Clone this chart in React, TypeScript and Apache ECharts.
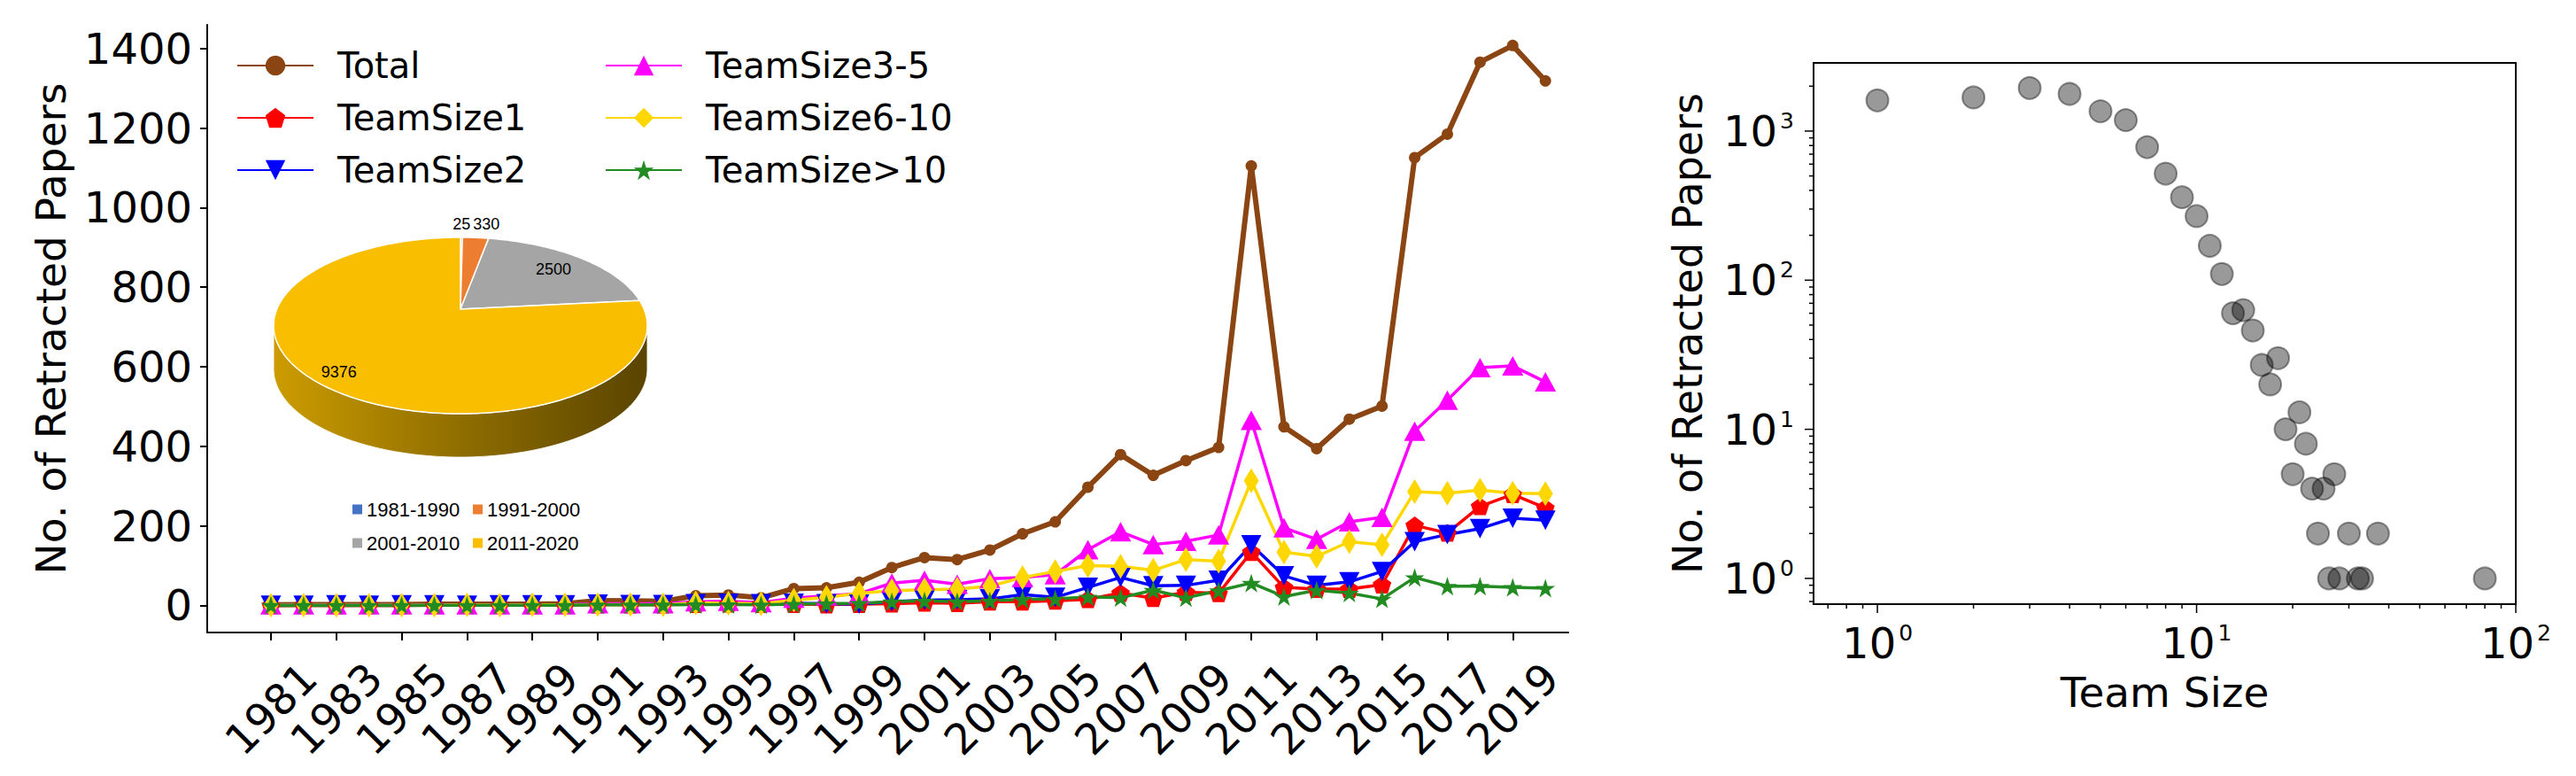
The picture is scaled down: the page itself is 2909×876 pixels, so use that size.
import React, { useEffect, useRef } from 'react';
import * as echarts from 'echarts';

// ---------------- data: left chart ----------------
const years = [
  1981, 1982, 1983, 1984, 1985, 1986, 1987, 1988, 1989, 1990,
  1991, 1992, 1993, 1994, 1995, 1996, 1997, 1998, 1999, 2000,
  2001, 2002, 2003, 2004, 2005, 2006, 2007, 2008, 2009, 2010,
  2011, 2012, 2013, 2014, 2015, 2016, 2017, 2018, 2019, 2020,
];
const yearTickLabels = [
  1981, 1983, 1985, 1987, 1989, 1991, 1993, 1995, 1997, 1999,
  2001, 2003, 2005, 2007, 2009, 2011, 2013, 2015, 2017, 2019,
];
const countTicks = [0, 200, 400, 600, 800, 1000, 1200, 1400];

const total = [
  1, 2, 2, 2, 2, 3, 3, 3, 3, 4,
  12, 11, 10, 24, 26, 19, 42, 44, 58, 95,
  120, 115, 139, 180, 210, 297, 379, 327, 364, 397,
  1105, 449, 394, 468, 501, 1126, 1185, 1366, 1408, 1319,
];
const teamSize1 = [
  0, 1, 0, 1, 0, 1, 1, 1, 0, 1,
  2, 2, 2, 3, 4, 3, 3, 2, 3, 4,
  6, 5, 9, 9, 11, 15, 31, 18, 33, 30,
  134, 45, 41, 41, 52, 201, 182, 249, 279, 245,
];
const teamSize2 = [
  0, 0, 1, 0, 1, 1, 0, 1, 1, 1,
  3, 2, 2, 4, 5, 4, 5, 4, 3, 9,
  13, 14, 16, 27, 20, 45, 70, 49, 50, 63,
  152, 74, 50, 59, 85, 160, 178, 193, 219, 214,
];
const teamSize3to5 = [
  1, 1, 1, 1, 1, 1, 1, 1, 1, 1,
  4, 4, 4, 9, 10, 7, 18, 24, 29, 56,
  63, 53, 67, 70, 77, 140, 185, 153, 161, 177,
  465, 195, 166, 210, 221, 438, 516, 598, 602, 562,
];
const teamSize6to10 = [
  0, 0, 0, 0, 0, 0, 1, 0, 1, 1,
  2, 2, 1, 6, 5, 4, 13, 20, 30, 37,
  39, 41, 48, 70, 85, 100, 98, 88, 115, 111,
  313, 134, 123, 160, 152, 286, 282, 290, 282, 281,
];
const teamSizeOver10 = [
  0, 0, 0, 0, 0, 0, 0, 0, 0, 0,
  1, 1, 1, 2, 2, 1, 3, 4, 5, 9,
  11, 9, 11, 15, 16, 21, 19, 38, 19, 37,
  56, 22, 38, 31, 16, 70, 48, 48, 45, 43,
];

// ---------------- data: inset 3D pie ----------------
const decadeLabels = ['1981-1990', '1991-2000', '2001-2010', '2011-2020'];
const decadeCounts = [25, 330, 2500, 9376];
const decadeColors = ['#4472C4', '#ED7D31', '#A5A5A5', '#F9BE00'];

// ---------------- data: right chart ----------------
const teamSizes = [1, 2, 3, 4, 5, 6, 7, 8, 9, 10, 11, 12, 13, 14, 15, 16, 17, 18, 19, 20, 21, 22, 23, 24, 25, 26, 27, 28, 30, 32, 33, 37, 80];
const paperCounts = [1607, 1682, 1944, 1775, 1358, 1184, 780, 518, 360, 269, 170, 110, 60, 63, 46, 27, 20, 30, 10, 5, 13, 8, 4, 2, 4, 1, 5, 1, 2, 1, 1, 2, 1];
const logMajorX = [1, 10, 100];
const logMinorX = [0.7, 0.8, 0.9, 2, 3, 4, 5, 6, 7, 8, 9, 20, 30, 40, 50, 60, 70, 80, 90];
const logMajorY = [1, 10, 100, 1000];
const logMinorY = [0.7, 0.8, 0.9, 2, 3, 4, 5, 6, 7, 8, 9, 20, 30, 40, 50, 60, 70, 80, 90, 200, 300, 400, 500, 600, 700, 800, 900, 2000];

// ---------------- styles ----------------
const FONT = 'DejaVu Sans';
const PENTAGON = 'path://M1,0L1.9511,0.691L1.5878,1.809L0.4122,1.809L0.0489,0.691Z';
const TRI_DOWN = 'path://M0,0L2,0L1,2Z';
const STAR = 'path://M1,0L1.2245,0.691L1.9511,0.691L1.3633,1.118L1.5878,1.809L1,1.382L0.4122,1.809L0.6367,1.118L0.0489,0.691L0.7755,0.691Z';

const lineDefs = [
  { name: 'Total', data: total, color: '#8B4513', symbol: 'circle', size: 13, width: 6 },
  { name: 'TeamSize1', data: teamSize1, color: '#FF0000', symbol: PENTAGON, size: [21, 20], width: 3.5 },
  { name: 'TeamSize2', data: teamSize2, color: '#0000FF', symbol: TRI_DOWN, size: [23, 22], width: 3.5 },
  { name: 'TeamSize3-5', data: teamSize3to5, color: '#FF00FF', symbol: 'triangle', size: [24, 22], width: 3.5 },
  { name: 'TeamSize6-10', data: teamSize6to10, color: '#FFD700', symbol: 'diamond', size: [17, 28], width: 3.5 },
  { name: 'TeamSize>10', data: teamSizeOver10, color: '#228B22', symbol: STAR, size: [22, 21], width: 3.5 },
];

// pie geometry (perspective-projected ellipse)
const PIE = { cx: 520, cy: 349, ax: 207.3, ay: 96.1, persp: 0.186, depth: 49 };
const pieLabelRadius = [1.23, 1.23, 0.755, 0.87];
const pieLabelShiftX = [0, 9, 0, 0];

function proj(X: number, Z: number): number[] {
  const s = 1 / (1 - PIE.persp * Z);
  return [PIE.cx + PIE.ax * X * s, PIE.cy + PIE.ay * Z * s];
}
function rim(deg: number, r = 1): number[] {
  const a = (deg * Math.PI) / 180;
  return proj(r * Math.sin(a), -r * Math.cos(a));
}
function shade(hex: string, f: number): string {
  const n = parseInt(hex.slice(1), 16);
  const r = Math.round(((n >> 16) & 255) * f);
  const g = Math.round(((n >> 8) & 255) * f);
  const b = Math.round((n & 255) * f);
  return `rgb(${r},${g},${b})`;
}
const pieSum = decadeCounts.reduce((a, b) => a + b, 0);
const sideStart = (Math.acos(-PIE.persp) * 180) / Math.PI;
const sideEnd = 360 - sideStart;

function sliceRender(i: number) {
  return (params: any, api: any) => {
    const v = api.value(0);
    let before = 0;
    for (let k = 0; k < i; k++) before += decadeCounts[k];
    const a0 = (before / pieSum) * 360;
    const a1 = ((before + v) / pieSum) * 360;
    const color = decadeColors[i];
    const children: any[] = [];
    const s0 = Math.max(a0, sideStart);
    const s1 = Math.min(a1, sideEnd);
    if (s1 > s0) {
      const top: number[][] = [];
      const n = Math.max(2, Math.ceil(s1 - s0));
      for (let s = 0; s <= n; s++) top.push(rim(s0 + ((s1 - s0) * s) / n));
      const bottom = top.map((p) => [p[0], p[1] + PIE.depth]).reverse();
      children.push({
        type: 'polygon',
        shape: { points: top.concat(bottom) },
        style: {
          fill: new echarts.graphic.LinearGradient(0, 0, 1, 0, [
            { offset: 0, color: shade(color, 0.82) },
            { offset: 0.55, color: shade(color, 0.55) },
            { offset: 1, color: shade(color, 0.36) },
          ]),
          stroke: 'rgba(255,255,255,0.85)',
          lineWidth: 1,
        },
      });
    }
    const pts: number[][] = [proj(0, 0)];
    const steps = Math.max(2, Math.ceil(a1 - a0));
    for (let s = 0; s <= steps; s++) pts.push(rim(a0 + ((a1 - a0) * s) / steps));
    children.push({
      type: 'polygon',
      shape: { points: pts },
      style: { fill: color, stroke: '#ffffff', lineWidth: 1.5 },
    });
    const lp = rim((a0 + a1) / 2, pieLabelRadius[i]);
    children.push({
      type: 'text',
      x: lp[0] + pieLabelShiftX[i],
      y: lp[1],
      style: {
        text: String(v),
        fontSize: 18,
        fontFamily: 'Liberation Sans',
        fill: '#000',
        align: 'center',
        verticalAlign: 'middle',
      },
    });
    return { type: 'group', children };
  };
}

function tickSeries(vals: number[], axis: 'x' | 'y', len: number) {
  return {
    type: 'custom',
    xAxisIndex: 1,
    yAxisIndex: 1,
    silent: true,
    clip: false,
    z: 10,
    data: vals.map((v) => (axis === 'x' ? [v, 1] : [1, v])),
    renderItem: (params: any, api: any) => {
      const cs = params.coordSys;
      const p = api.coord([api.value(0), api.value(1)]);
      if (axis === 'x') {
        const yb = cs.y + cs.height;
        return { type: 'line', shape: { x1: p[0], y1: yb, x2: p[0], y2: yb + len }, style: { stroke: '#000', lineWidth: 1.5 } };
      }
      return { type: 'line', shape: { x1: cs.x - len, y1: p[1], x2: cs.x, y2: p[1] }, style: { stroke: '#000', lineWidth: 1.5 } };
    },
  };
}

const logLabel = (v: number) => {
  const e = Math.log10(v);
  const r = Math.round(e);
  if (Math.abs(e - r) > 1e-6) return '';
  return `{b|10}{s|${r}}`;
};
const logRich = {
  b: { fontSize: 48, lineHeight: 48, fontFamily: FONT, color: '#000', verticalAlign: 'bottom' },
  s: { fontSize: 25, lineHeight: 25, fontFamily: FONT, color: '#000', verticalAlign: 'top', padding: [0, 0, 0, 3] },
};

const legendBase = {
  orient: 'vertical',
  top: 54,
  padding: 0,
  itemWidth: 86,
  itemHeight: 28,
  itemGap: 19,
  textStyle: { fontSize: 40, lineHeight: 40, fontFamily: FONT, color: '#000', padding: [0, 0, 0, 22] },
};
const pieLegendBase = {
  orient: 'vertical',
  top: 564,
  padding: 0,
  icon: 'rect',
  itemWidth: 11,
  itemHeight: 11,
  itemGap: 16,
  textStyle: { fontSize: 22, lineHeight: 22, fontFamily: 'Liberation Sans', color: '#000' },
};

const option: any = {
  animation: false,
  backgroundColor: '#ffffff',
  textStyle: { fontFamily: FONT },
  grid: [
    { left: 234, top: 28, width: 1537, height: 686, show: false },
    { left: 2048, top: 71, width: 793, height: 611, show: true, borderColor: '#000', borderWidth: 2, backgroundColor: 'transparent' },
  ],
  legend: [
    { ...legendBase, left: 267, data: ['Total', 'TeamSize1', 'TeamSize2'] },
    { ...legendBase, left: 683, data: ['TeamSize3-5', 'TeamSize6-10', 'TeamSize>10'] },
    { ...pieLegendBase, left: 398, data: [decadeLabels[0], decadeLabels[2]] },
    { ...pieLegendBase, left: 534, data: [decadeLabels[1], decadeLabels[3]] },
  ],
  xAxis: [
    {
      type: 'value',
      gridIndex: 0,
      min: 1979.05,
      max: 2020.7,
      splitLine: { show: false },
      axisLine: { show: true, onZero: false, lineStyle: { color: '#000', width: 2 } },
      axisTick: { show: true, length: 9, customValues: yearTickLabels, lineStyle: { color: '#000', width: 2 } },
      axisLabel: {
        customValues: yearTickLabels,
        rotate: 45,
        align: 'center',
        verticalAlign: 'middle',
        margin: 86,
        fontSize: 48,
        fontFamily: FONT,
        color: '#000',
        formatter: (v: number) => String(v),
      },
    },
    {
      type: 'log',
      gridIndex: 1,
      logBase: 10,
      min: 0.631,
      max: 100,
      splitLine: { show: false },
      axisLine: { show: false },
      axisTick: { show: false },
      axisLabel: { formatter: logLabel, rich: logRich, margin: 20, color: '#000' },
      name: 'Team Size',
      nameLocation: 'middle',
      nameGap: 76,
      nameTextStyle: { fontSize: 47, lineHeight: 47, fontFamily: FONT, color: '#000' },
    },
  ],
  yAxis: [
    {
      type: 'value',
      gridIndex: 0,
      min: -68.4,
      max: 1460,
      splitLine: { show: false },
      axisLine: { show: true, onZero: false, lineStyle: { color: '#000', width: 2 } },
      axisTick: { show: true, length: 8, customValues: countTicks, lineStyle: { color: '#000', width: 2 } },
      axisLabel: {
        customValues: countTicks,
        margin: 17,
        fontSize: 48,
        fontFamily: FONT,
        color: '#000',
        formatter: (v: number) => String(v),
      },
      name: 'No. of Retracted Papers',
      nameLocation: 'middle',
      nameRotate: 90,
      nameGap: 153,
      nameTextStyle: { fontSize: 47, lineHeight: 47, fontFamily: FONT, color: '#000' },
    },
    {
      type: 'log',
      gridIndex: 1,
      logBase: 10,
      min: 0.672,
      max: 2865,
      splitLine: { show: false },
      axisLine: { show: false },
      axisTick: { show: false },
      axisLabel: { formatter: logLabel, rich: logRich, margin: 22, color: '#000' },
      name: 'No. of Retracted Papers',
      nameLocation: 'middle',
      nameRotate: 90,
      nameGap: 119,
      nameTextStyle: { fontSize: 46, lineHeight: 46, fontFamily: FONT, color: '#000' },
    },
  ],
  series: [
    ...lineDefs.map((d) => ({
      type: 'line',
      name: d.name,
      xAxisIndex: 0,
      yAxisIndex: 0,
      data: years.map((y, i) => [y, d.data[i]]),
      symbol: d.symbol,
      symbolSize: d.size,
      showAllSymbol: true,
      lineStyle: { width: d.width, color: d.color },
      itemStyle: { color: d.color, borderWidth: 0 },
      emphasis: { disabled: true },
    })),
    ...decadeLabels.map((name, i) => ({
      type: 'custom',
      name,
      coordinateSystem: 'none',
      silent: true,
      z: 5,
      itemStyle: { color: decadeColors[i] },
      data: [[decadeCounts[i]]],
      renderItem: sliceRender(i),
    })),
    {
      type: 'scatter',
      xAxisIndex: 1,
      yAxisIndex: 1,
      data: teamSizes.map((t, i) => [t, paperCounts[i]]),
      symbol: 'circle',
      symbolSize: 25,
      itemStyle: { color: 'rgba(0,0,0,0.5)', borderColor: 'rgba(0,0,0,0.5)', borderWidth: 2 },
      emphasis: { disabled: true },
    },
    tickSeries(logMajorX, 'x', 10),
    tickSeries(logMinorX, 'x', 5),
    tickSeries(logMajorY, 'y', 10),
    tickSeries(logMinorY, 'y', 5),
  ],
};

export default function App() {
  const ref = useRef<HTMLDivElement>(null);
  useEffect(() => {
    if (!ref.current) return;
    const chart = echarts.init(ref.current, null, { renderer: 'svg' });
    chart.setOption(option);
    return () => chart.dispose();
  }, []);
  return (
    <div
      ref={ref}
      style={{ position: 'fixed', left: 0, top: 0, width: '2909px', height: '876px', background: '#ffffff' }}
    />
  );
}
